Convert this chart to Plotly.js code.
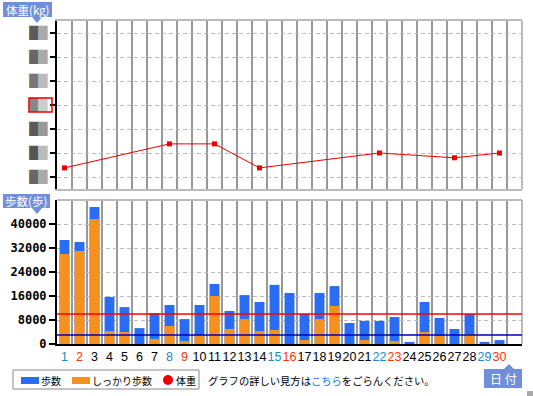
<!DOCTYPE html>
<html><head><meta charset="utf-8">
<script src="https://cdn.plot.ly/plotly-3.0.1.min.js"></script>
<style>html,body{margin:0;padding:0;background:#fff}#chart{width:533px;height:396px}</style>
</head><body><div id="chart"></div>
<script>
const days = [1,2,3,4,5,6,7,8,9,10,11,12,13,14,15,16,17,18,19,20,21,22,23,24,25,26,27,28,29,30];
const steps = [34700,34000,45700,15700,12300,5300,10300,13000,8300,13000,20000,11000,16300,14000,19700,17000,10000,17000,19300,7000,7700,7700,9000,700,14000,8700,5000,10000,700,1300];
const firmSteps = [30000,31000,41700,4300,4000,0,1700,6000,1000,3000,16000,5000,8300,4300,4700,0,1300,8300,12700,0,1300,0,1000,0,4000,2700,0,3300,0,0];
const weight = [60.19,null,null,null,null,null,null,60.69,null,null,60.69,null,null,60.19,null,null,null,null,null,null,null,60.5,null,null,null,null,60.4,null,null,60.5];
const dayColors = ['#1a8ac6','#ff3300','#000','#000','#000','#000','#000'];
const stepTicks = [0,8000,16000,24000,32000,40000];
const stepTickText = ['0','8000','16000','24000','32000','40000'];
const weightTicks = [60,60.5,61,61.5,62,62.5,63];
const weightShades = [['#666','#aaa'],['#555','#bbb'],['#5a5a5a','#999'],['#888','#ccc'],['#777','#bbb'],['#666','#aaa'],['#5a5a5a','#aaa']];
const targetSteps = 10000, baseSteps = 3000;

const L=57, R=11, T=21, B=52, W=533, H=396;
const PW=W-L-R, PH=H-T-B;
const xp = p => (p-L)/PW;
const yp = p => (H-B-p)/PH;

const tickText = days.map((d,i)=>'<span style="color:'+dayColors[i%7]+'">'+d+'</span>');
const weightTickText = weightShades.map(s=>'<span style="color:'+s[0]+'">█</span><span style="color:'+s[1]+'">█</span>');

const traces = [
  {type:'bar', x:days, y:steps, name:'歩数', marker:{color:'#2a6cf4'}, width:0.66, xaxis:'x', yaxis:'y', hoverinfo:'none'},
  {type:'bar', x:days, y:firmSteps, name:'しっかり歩数', marker:{color:'#f6911f'}, width:0.66, xaxis:'x', yaxis:'y', hoverinfo:'none'},
  {type:'scatter', mode:'lines+markers', x:days, y:weight, name:'体重', connectgaps:true,
   line:{color:'#ee0000', width:1}, marker:{color:'#ee0000', symbol:'square', size:5}, xaxis:'x2', yaxis:'y2', hoverinfo:'none'}
];

const gridMinor = {tickmode:'linear', tick0:0.5, dtick:1, showgrid:true, gridcolor:'#999999', gridwidth:1.2, griddash:'solid', ticks:''};
const shapes = [
  {type:'line', xref:'paper', yref:'paper', x0:1, x1:1, y0:0, y1:yp(200), line:{color:'#bbb', width:2}},
  {type:'line', xref:'paper', yref:'paper', x0:1, x1:1, y0:yp(189), y1:1, line:{color:'#bbb', width:2}},
  {type:'line', xref:'paper', yref:'paper', x0:0, x1:1, y0:yp(200), y1:yp(200), line:{color:'#bbb', width:2}},
  {type:'line', xref:'x', yref:'y', x0:0.5, x1:31.5, y0:targetSteps, y1:targetSteps, line:{color:'#ff0000', width:1.5}, layer:'above'},
  {type:'line', xref:'x', yref:'y', x0:0.5, x1:31.5, y0:baseSteps, y1:baseSteps, line:{color:'#0000bb', width:1.5}, layer:'above'},
  {type:'rect', xref:'paper', yref:'paper', x0:xp(29), x1:xp(52), y0:yp(112), y1:yp(98), line:{color:'#e00', width:1.5}},
  {type:'rect', xref:'paper', yref:'paper', x0:xp(3), x1:xp(52), y0:yp(17), y1:yp(2), fillcolor:'#6f8fd9', line:{width:0}},
  {type:'path', xref:'paper', yref:'paper', path:'M '+xp(32)+' '+yp(17)+' L '+xp(42)+' '+yp(17)+' L '+xp(37)+' '+yp(23)+' Z', fillcolor:'#6f8fd9', line:{width:0}},
  {type:'rect', xref:'paper', yref:'paper', x0:xp(3), x1:xp(50), y0:yp(208), y1:yp(194), fillcolor:'#6f8fd9', line:{width:0}},
  {type:'path', xref:'paper', yref:'paper', path:'M '+xp(32)+' '+yp(208)+' L '+xp(42)+' '+yp(208)+' L '+xp(37)+' '+yp(214)+' Z', fillcolor:'#6f8fd9', line:{width:0}},
  {type:'rect', xref:'paper', yref:'paper', x0:xp(484), x1:xp(522), y0:yp(388), y1:yp(369), fillcolor:'#6f8fd9', line:{width:0}},
  {type:'path', xref:'paper', yref:'paper', path:'M '+xp(504)+' '+yp(369)+' L '+xp(514)+' '+yp(369)+' L '+xp(509)+' '+yp(364)+' Z', fillcolor:'#6f8fd9', line:{width:0}},
  {type:'rect', xref:'paper', yref:'paper', x0:xp(13), x1:xp(199), y0:yp(389), y1:yp(370), line:{color:'#888', width:1}},
  {type:'rect', xref:'paper', yref:'paper', x0:xp(21), x1:xp(39), y0:yp(384), y1:yp(377), fillcolor:'#2a6cf4', line:{width:0}},
  {type:'rect', xref:'paper', yref:'paper', x0:xp(72), x1:xp(90), y0:yp(384), y1:yp(377), fillcolor:'#f6911f', line:{width:0}},
  {type:'circle', xref:'paper', yref:'paper', x0:xp(163), x1:xp(173), y0:yp(385), y1:yp(375), fillcolor:'#ee0000', line:{width:0}},
  {type:'rect', xref:'paper', yref:'paper', x0:xp(527), x1:xp(533), y0:yp(396), y1:yp(391), fillcolor:'#aaa', line:{width:0}}
];
const cjk = '"Noto Sans CJK JP", sans-serif';
const ann = (px,py,text,size,color,anchor) => ({xref:'paper', yref:'paper', x:xp(px), y:yp(py), text:text, showarrow:false,
  xanchor:anchor||'left', yanchor:'middle', font:{family:cjk, size:size, color:color||'#000'}});
const annotations = [
  ann(27.5,9.5,'体重(kg)',11.5,'#fff','center'),
  ann(26.5,201,'歩数(歩)',11.5,'#fff','center'),
  ann(503,378.5,'日 付',12,'#fff','center'),
  ann(39,380,'歩数',10),
  ann(90,380,'しっかり歩数',10),
  ann(174,380,'体重',10),
  ann(206,380,'グラフの詳しい見方は<span style="color:#2a6cf4">こちら</span>をごらんください。',10.3)
];

const layout = {
  width:W, height:H, margin:{l:L, r:R, t:T, b:B}, showlegend:false,
  paper_bgcolor:'#fff', plot_bgcolor:'#fff', barmode:'overlay', bargap:0.3,
  font:{family:'DejaVu Sans, sans-serif', color:'#000'},
  xaxis:{domain:[0,1], anchor:'y', range:[0.5,31.5], tickmode:'array', tickvals:days, ticktext:tickText, tickangle:0,
    showgrid:false, minor:gridMinor, showline:true, linecolor:'#000', linewidth:2, zeroline:false, ticks:'',
    tickfont:{size:12.5, family:'Liberation Sans, Arial, sans-serif'}, fixedrange:true},
  yaxis:{domain:[0, yp(200)], anchor:'x', range:[0,48000], tickmode:'array', tickvals:stepTicks, ticktext:stepTickText,
    showgrid:true, gridcolor:'#bbb', griddash:'4px,3px', gridwidth:1, showline:true, linecolor:'#000', linewidth:2,
    zeroline:false, ticks:'outside', ticklen:6, tickcolor:'#000', tickwidth:1.5,
    tickfont:{size:12, family:'DejaVu Sans Mono, monospace', weight:'bold'}},
  xaxis2:{domain:[0,1], anchor:'y2', range:[0.5,31.5], showticklabels:false, showgrid:false, minor:gridMinor,
    showline:true, mirror:true, linecolor:'#bbb', linewidth:2, zeroline:false, ticks:''},
  yaxis2:{domain:[yp(189), 1], anchor:'x2', range:[59.75,63.25], tickmode:'array', tickvals:weightTicks, ticktext:weightTickText,
    showgrid:true, gridcolor:'#bbb', griddash:'4px,3px', gridwidth:1, showline:true, linecolor:'#000', linewidth:2,
    zeroline:false, ticks:'outside', ticklen:5, tickcolor:'#000', tickwidth:1.5,
    tickfont:{size:12, family:'DejaVu Sans, sans-serif', color:'#888'}},
  shapes:shapes, annotations:annotations
};
Plotly.newPlot('chart', traces, layout, {staticPlot:true, displayModeBar:false});
</script></body></html>
